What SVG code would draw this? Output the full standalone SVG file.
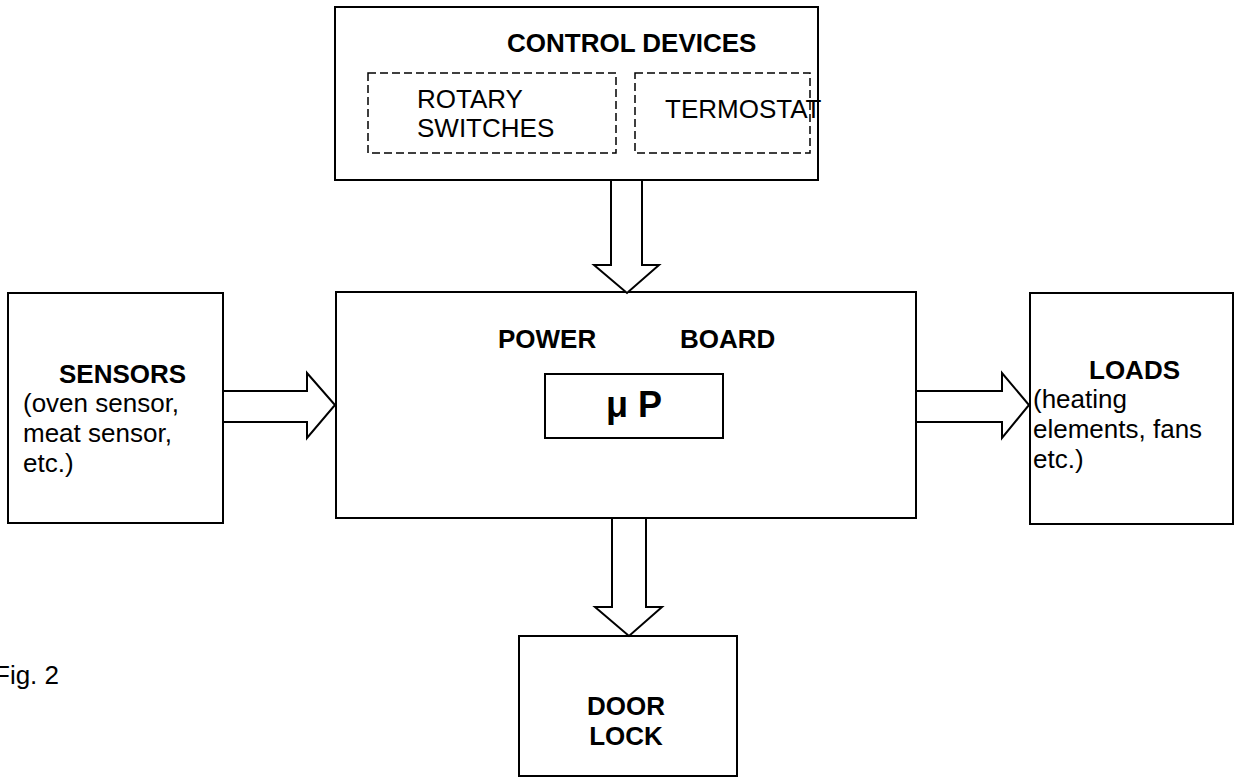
<svg xmlns="http://www.w3.org/2000/svg" width="1246" height="781" viewBox="0 0 1246 781">
<style>
.box{fill:#fff;stroke:#000;stroke-width:2}
.dash{fill:none;stroke:#000;stroke-width:1.5;stroke-dasharray:8 4}
.arr{fill:#fff;stroke:#000;stroke-width:2;stroke-linejoin:miter}
text{font-family:"Liberation Sans",Arial,sans-serif;font-size:26px;fill:#000}
.b{font-weight:bold}
</style>
<rect width="1246" height="781" fill="#fff"/>
<g id="control-devices">
<rect class="box" x="335" y="7" width="483" height="173"/>
<text class="b" x="507" y="52">CONTROL DEVICES</text>
<g id="rotary-switches">
<rect class="dash" x="368" y="73" width="248" height="80"/>
<text x="417" y="108">ROTARY</text>
<text x="417" y="137">SWITCHES</text>
</g>
<g id="termostat">
<rect class="dash" x="635" y="73" width="175" height="80"/>
<text x="665" y="118">TERMOSTAT</text>
</g>
</g>
<g id="power-board">
<rect class="box" x="336" y="292" width="580" height="226"/>
<text class="b" x="498" y="348">POWER</text>
<text class="b" x="680" y="348">BOARD</text>
<g id="microprocessor">
<rect class="box" x="545" y="374" width="178" height="64"/>
<text class="b" x="634" y="417" text-anchor="middle" style="font-size:36px">μ P</text>
</g>
</g>
<g id="sensors">
<rect class="box" x="8" y="293" width="215" height="230"/>
<text class="b" x="59" y="383">SENSORS</text>
<text x="23" y="412">(oven sensor,</text>
<text x="23" y="442">meat sensor,</text>
<text x="23" y="472">etc.)</text>
</g>
<g id="loads">
<rect class="box" x="1030" y="293" width="203" height="231"/>
<text class="b" x="1089" y="379">LOADS</text>
<text x="1033" y="408">(heating</text>
<text x="1033" y="438">elements, fans</text>
<text x="1033" y="468">etc.)</text>
</g>
<g id="door-lock">
<rect class="box" x="519" y="636" width="218" height="140"/>
<text class="b" x="626" y="715" text-anchor="middle">DOOR</text>
<text class="b" x="626" y="745" text-anchor="middle">LOCK</text>
</g>
<g id="caption">
<text x="-6" y="684">Fig. 2</text>
</g>
<g id="connectors">
<polygon class="arr" points="611,180 642,180 642,265 659,265 627,293 594,265 611,265"/>
<polygon class="arr" points="223,391 307,391 307,373 335,405 307,438 307,422 223,422"/>
<polygon class="arr" points="916,391 1002,391 1002,373 1029,405 1002,438 1002,422 916,422"/>
<polygon class="arr" points="612,518 646,518 646,607 662,607 629,636 595,607 612,607"/>
</g>
</svg>
